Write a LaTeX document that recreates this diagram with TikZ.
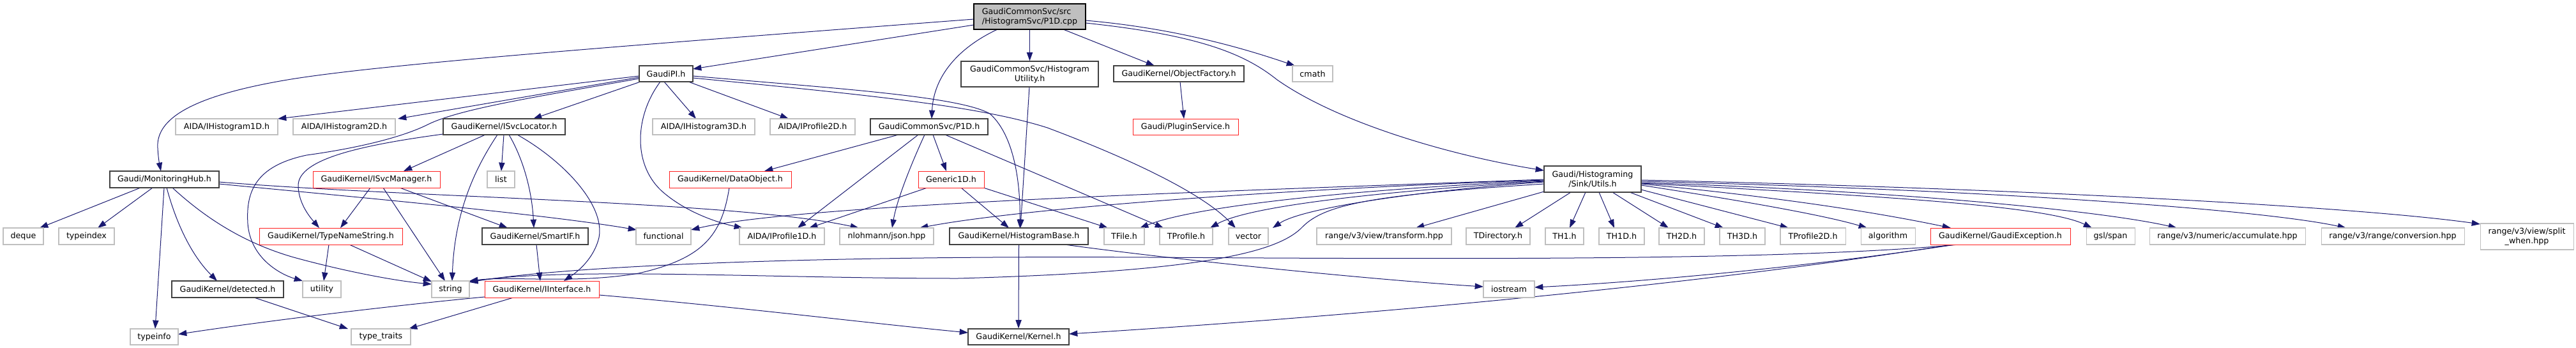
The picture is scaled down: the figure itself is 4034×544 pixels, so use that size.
\documentclass[tikz,border=0pt]{standalone}
\usepackage{fontspec}
\setmainfont{DejaVu Sans}
\usetikzlibrary{arrows.meta,calc}
\pgfdeclarelayer{bg}
\pgfsetlayers{bg,main}
\definecolor{edgec}{HTML}{191970}
\definecolor{grayb}{HTML}{BFBFBF}
\definecolor{darkb}{HTML}{404040}
\definecolor{redb}{HTML}{FF2020}
\definecolor{topfill}{HTML}{BFBFBF}
\newcommand\mknode[7]{\node[#1, minimum width={(#4-#3)*0.75pt}, minimum height={(#6-#5)*0.75pt}] (#2) at ({(#3+#4)/2},{(#5+#6)/2}) {#7};}
\begin{document}
\begin{tikzpicture}[x=0.75pt,y=-0.75pt,
  base/.style={rectangle, inner sep=0pt, fill=white, align=center, text=black,
    font=\fontsize{9.5}{11.25}\selectfont, line width=0.9pt},
  nb/.style={base, draw=darkb},
  ng/.style={base, draw=grayb, line width=0.8pt},
  nr/.style={base, draw=redb, line width=0.75pt},
  ntop/.style={base, draw=black, fill=topfill, align=left},
  conn/.style={draw=edgec, line width=0.75pt, -{Triangle[length=10pt,width=7pt]}}]
\useasboundingbox (0,0) rectangle (4034,544);
% row 0
\mknode{ntop}{cpp}{1525}{1700}{6}{46}{GaudiCommonSvc/src\\/HistogramSvc/P1D.cpp}
% row 1
\mknode{nb}{gaudipi}{1001}{1085}{103}{128}{GaudiPI.h}
\mknode{nb}{histutil}{1505}{1720}{96}{136}{GaudiCommonSvc/Histogram\\Utility.h}
\mknode{nb}{objfac}{1744}{1948}{103}{128}{GaudiKernel/ObjectFactory.h}
\mknode{ng}{cmath}{2024}{2087}{103}{128}{cmath}
% row 2
\mknode{ng}{ih1}{275}{435}{186}{211}{AIDA/IHistogram1D.h}
\mknode{ng}{ih2}{459}{619}{186}{211}{AIDA/IHistogram2D.h}
\mknode{nb}{isvcloc}{694}{885}{186}{211}{GaudiKernel/ISvcLocator.h}
\mknode{ng}{ih3}{1022}{1182}{186}{211}{AIDA/IHistogram3D.h}
\mknode{ng}{ip2}{1206}{1339}{186}{211}{AIDA/IProfile2D.h}
\mknode{nb}{p1dh}{1363}{1547}{186}{211}{GaudiCommonSvc/P1D.h}
\mknode{nr}{plugin}{1774}{1939}{186}{211}{Gaudi/PluginService.h}
% row 3
\mknode{nb}{mhub}{172}{343}{268}{294}{Gaudi/MonitoringHub.h}
\mknode{nr}{isvcman}{490}{689}{268}{294}{GaudiKernel/ISvcManager.h}
\mknode{ng}{list}{763}{806}{268}{294}{list}
\mknode{nr}{dataobj}{1048}{1239}{268}{294}{GaudiKernel/DataObject.h}
\mknode{nr}{gen1d}{1438}{1541}{268}{294}{Generic1D.h}
\mknode{nb}{utils}{2418}{2570}{260}{301}{Gaudi/Histograming\\/Sink/Utils.h}
% row 4
\mknode{ng}{deque}{5}{68}{357}{383}{deque}
\mknode{ng}{typeindex}{92}{179}{357}{383}{typeindex}
\mknode{nr}{tns}{406}{630}{357}{383}{GaudiKernel/TypeNameString.h}
\mknode{nb}{smartif}{755}{921}{357}{383}{GaudiKernel/SmartIF.h}
\mknode{ng}{functional}{996}{1082}{357}{383}{functional}
\mknode{ng}{ip1}{1158}{1291}{357}{383}{AIDA/IProfile1D.h}
\mknode{ng}{json}{1315}{1462}{357}{383}{nlohmann/json.hpp}
\mknode{nb}{hbase}{1487}{1704}{357}{383}{GaudiKernel/HistogramBase.h}
\mknode{ng}{tfile}{1729}{1792}{357}{383}{TFile.h}
\mknode{ng}{tprofile}{1816}{1899}{357}{383}{TProfile.h}
\mknode{ng}{vector}{1924}{1986}{357}{383}{vector}
\mknode{ng}{transform}{2062}{2273}{357}{383}{range/v3/view/transform.hpp}
\mknode{ng}{tdir}{2296}{2396}{357}{383}{TDirectory.h}
\mknode{ng}{th1}{2420}{2480}{357}{383}{TH1.h}
\mknode{ng}{th1d}{2504}{2575}{357}{383}{TH1D.h}
\mknode{ng}{th2d}{2598}{2669}{357}{383}{TH2D.h}
\mknode{ng}{th3d}{2693}{2764}{357}{383}{TH3D.h}
\mknode{ng}{tp2d}{2788}{2890}{357}{383}{TProfile2D.h}
\mknode{ng}{algorithm}{2914}{2999}{357}{383}{algorithm}
\mknode{nr}{gexc}{3023}{3242}{357}{383}{GaudiKernel/GaudiException.h}
\mknode{ng}{gsl}{3267}{3343}{357}{383}{gsl/span}
\mknode{ng}{accum}{3366}{3610}{357}{383}{range/v3/numeric/accumulate.hpp}
\mknode{ng}{conv}{3635}{3859}{357}{383}{range/v3/range/conversion.hpp}
\mknode{ng}{split}{3884}{4030}{350}{391}{range/v3/view/split\\\_when.hpp}
% row 5
\mknode{nb}{detected}{269}{444}{440}{466}{GaudiKernel/detected.h}
\mknode{ng}{utility}{474}{534}{440}{466}{utility}
\mknode{ng}{string}{676}{735}{440}{466}{string}
\mknode{nr}{iinterface}{759}{938}{440}{466}{GaudiKernel/IInterface.h}
\mknode{ng}{iostream}{2323}{2403}{440}{466}{iostream}
% row 6
\mknode{ng}{typeinfo}{204}{279}{515}{540}{typeinfo}
\mknode{ng}{typetraits}{550}{643}{515}{540}{type\_traits}
\mknode{nb}{kernel}{1516}{1674}{515}{540}{GaudiKernel/Kernel.h}

\begin{pgfonlayer}{bg}
% from cpp
\draw[conn] ($(cpp)+(-87.5,4)$) .. controls (1000,70) and (600,100) .. (450,125) .. controls (290,152) and (244,190) .. (247,232) .. controls (248,250) and (250,258) .. ($(mhub)+(-5.5,-13)$);
\draw[conn] ($(cpp)+(-87.5,13)$) -- ($(gaudipi)+(42,-7.5)$);
\draw[conn] ($(cpp)+(-50.5,20)$) .. controls (1500,75) and (1462,120) .. ($(p1dh)+(4,-12.5)$);
\draw[conn] (cpp.south) -- (histutil.north);
\draw[conn] ($(cpp)+(52.5,20)$) -- ($(objfac)+(-38,-12.5)$);
\draw[conn] ($(cpp)+(87.5,6)$) .. controls (1850,45) and (1960,80) .. ($(cmath)+(-27.5,-12.5)$);
\draw[conn] ($(cpp)+(87.5,10)$) .. controls (1880,55) and (1950,85) .. (2000,125) .. controls (2100,195) and (2280,245) .. ($(utils)+(-76,-13.5)$);
% from GaudiPI
\draw[conn] ($(gaudipi)+(-42,3.5)$) -- ($(ih1)+(80,-12.5)$);
\draw[conn] ($(gaudipi)+(-42,5.5)$) -- ($(ih2)+(84,-12.5)$);
\draw[conn] ($(gaudipi)+(-40,12.5)$) -- ($(isvcloc)+(45.5,-12.5)$);
\draw[conn] ($(gaudipi)+(-42,7.5)$) .. controls (850,150) and (720,170) .. (670,195) .. controls (630,215) and (560,232) .. (480,243) .. controls (400,260) and (385,300) .. (388,350) .. controls (392,405) and (440,430) .. ($(utility)+(-30,-13)$);
\draw[conn] ($(gaudipi)+(-3,12.5)$) -- ($(ih3)+(-12,-12.5)$);
\draw[conn] ($(gaudipi)+(35,12.5)$) -- ($(ip2)+(-37.5,-12.5)$);
\draw[conn] ($(gaudipi)+(-9,12.5)$) .. controls (995,180) and (990,255) .. (1035,298) .. controls (1070,330) and (1120,348) .. ($(ip1)+(-61.5,-13)$);
\draw[conn] ($(gaudipi)+(42,3.5)$) .. controls (1300,138) and (1500,150) .. (1550,178) .. controls (1592,215) and (1598,300) .. ($(hbase)+(1.5,-13)$);
\draw[conn] ($(gaudipi)+(42,6.5)$) .. controls (1350,148) and (1530,165) .. (1640,200) .. controls (1760,245) and (1880,300) .. ($(vector)+(-20,-13)$);
% from ISvcLocator
\draw[conn] ($(isvcloc)+(-95.5,11.5)$) .. controls (560,228) and (468,250) .. (467,290) .. controls (467,320) and (488,343) .. ($(tns)+(-18,-13)$);
\draw[conn] ($(isvcloc)+(-29.5,12.5)$) -- ($(isvcman)+(42.5,-13)$);
\draw[conn] ($(isvcloc)+(-10.5,12.5)$) .. controls (745,262) and (712,330) .. ($(string)+(2.5,-13)$);
\draw[conn] ($(isvcloc)+(-0.5,12.5)$) -- ($(list)+(0.5,-13)$);
\draw[conn] ($(isvcloc)+(7.5,12.5)$) .. controls (820,250) and (833,300) .. ($(smartif)+(-2,-13)$);
\draw[conn] ($(isvcloc)+(20.5,12.5)$) .. controls (880,250) and (948,320) .. (938,372) .. controls (930,405) and (905,425) .. ($(iinterface)+(34.5,-13)$);
% from ISvcManager
\draw[conn] ($(isvcman)+(-9.5,13)$) -- ($(tns)+(15,-13)$);
\draw[conn] ($(isvcman)+(10.5,13)$) -- ($(string)+(-8.5,-13)$);
\draw[conn] ($(isvcman)+(36.5,13)$) -- ($(smartif)+(-43,-13)$);
% from TypeNameString, SmartIF
\draw[conn] ($(tns)+(-3,13)$) -- ($(utility)+(3,-13)$);
\draw[conn] ($(tns)+(29,13)$) -- ($(string)+(-29.5,-12)$);
\draw[conn] ($(smartif)+(2,13)$) -- ($(iinterface)+(-2.5,-13)$);
% from MonitoringHub
\draw[conn] ($(mhub)+(-37.5,13)$) -- ($(deque)+(25.5,-13)$);
\draw[conn] ($(mhub)+(-18.5,13)$) -- ($(typeindex)+(17.5,-13)$);
\draw[conn] ($(mhub)+(-0.5,13)$) -- ($(typeinfo)+(1.5,-12.5)$);
\draw[conn] ($(mhub)+(3.5,13)$) .. controls (276,350) and (300,400) .. ($(detected)+(-16.5,-13)$);
\draw[conn] ($(mhub)+(12.5,13)$) .. controls (320,340) and (380,380) .. (460,403) .. controls (540,425) and (620,440) .. ($(string)+(-29.5,-8)$);
\draw[conn] ($(mhub)+(85.5,7)$) .. controls (550,308) and (850,335) .. ($(functional)+(-42,-10)$);
\draw[conn] ($(mhub)+(85.5,4)$) .. controls (650,310) and (1150,315) .. ($(json)+(-43.5,-13)$);
% detected, IInterface
\draw[conn] ($(detected)+(41.5,13)$) -- ($(typetraits)+(-51.5,-12.5)$);
\draw[conn] ($(iinterface)+(-89.5,12)$) .. controls (600,480) and (400,505) .. ($(typeinfo)+(37.5,-4)$);
\draw[conn] ($(iinterface)+(-44.5,13)$) -- ($(typetraits)+(43.5,-12.5)$);
\draw[conn] ($(iinterface)+(89.5,9)$) .. controls (1150,480) and (1350,505) .. ($(kernel)+(-79,-6.5)$);
% DataObject
\draw[conn] ($(dataobj)+(-1.5,13)$) .. controls (1130,370) and (1100,405) .. (1000,428) .. controls (900,445) and (800,432) .. ($(string)+(29.5,-13)$);
% P1D.h
\draw[conn] ($(p1dh)+(-48,12.5)$) -- ($(dataobj)+(53.5,-13)$);
\draw[conn] ($(p1dh)+(-17,12.5)$) -- ($(ip1)+(24.5,-13)$);
\draw[conn] ($(p1dh)+(-7,12.5)$) .. controls (1430,250) and (1405,310) .. ($(json)+(8.5,-13)$);
\draw[conn] ($(p1dh)+(6,12.5)$) -- ($(gen1d)+(-7.5,-13)$);
\draw[conn] ($(p1dh)+(25,12.5)$) -- ($(tprofile)+(-35.5,-13)$);
% Generic1D
\draw[conn] ($(gen1d)+(-37.5,13)$) -- ($(ip1)+(42.5,-13)$);
\draw[conn] ($(gen1d)+(15.5,13)$) -- ($(hbase)+(-15.5,-13)$);
\draw[conn] ($(gen1d)+(50.5,13)$) -- ($(tfile)+(-25.5,-13)$);
% HistogramUtility, ObjectFactory, HistogramBase
\draw[conn] ($(histutil)+(-0.5,20)$) -- ($(hbase)+(2.5,-13)$);
\draw[conn] ($(objfac)+(2,12.5)$) -- ($(plugin)+(-2.5,-12.5)$);
\draw[conn] (hbase.south) -- (kernel.north);
\draw[conn] ($(hbase)+(71.5,13)$) .. controls (1850,408) and (2150,438) .. ($(iostream)+(-40,-4)$);
% Utils.h
\draw[conn] ($(utils)+(-76,0.5)$) .. controls (1900,300) and (1250,320) .. ($(functional)+(43,-10)$);
\draw[conn] ($(utils)+(-76,1.5)$) .. controls (1950,298) and (1580,330) .. ($(json)+(51.5,-13)$);
\draw[conn] ($(utils)+(-76,2.5)$) .. controls (2150,295) and (1880,320) .. ($(tfile)+(24.5,-13)$);
\draw[conn] ($(utils)+(-76,3.5)$) .. controls (2200,297) and (1960,320) .. ($(tprofile)+(37.5,-13)$);
\draw[conn] ($(utils)+(-76,4.5)$) .. controls (2230,298) and (2040,325) .. ($(vector)+(38,-13)$);
\draw[conn] ($(utils)+(-76,7.5)$) .. controls (2150,305) and (2075,320) .. (2040,355) .. controls (2005,392) and (1900,425) .. (1500,436) .. controls (1200,436) and (900,418) .. ($(string)+(29.5,-12)$);
\draw[conn] ($(utils)+(-76,19.5)$) -- ($(transform)+(49.5,-13)$);
\draw[conn] ($(utils)+(-34,20.5)$) -- ($(tdir)+(26,-13)$);
\draw[conn] ($(utils)+(-11,20.5)$) -- ($(th1)+(8,-13)$);
\draw[conn] ($(utils)+(10,20.5)$) -- ($(th1d)+(-11.5,-13)$);
\draw[conn] ($(utils)+(31,20.5)$) -- ($(th2d)+(-20.5,-13)$);
\draw[conn] ($(utils)+(58,20.5)$) -- ($(th3d)+(-29.5,-13)$);
\draw[conn] ($(utils)+(76,16.5)$) -- ($(tp2d)+(-38,-13)$);
\draw[conn] ($(utils)+(76,9.5)$) .. controls (2700,310) and (2850,335) .. ($(algorithm)+(-32.5,-13)$);
\draw[conn] ($(utils)+(76,7.5)$) .. controls (2800,310) and (2950,335) .. ($(gexc)+(-77.5,-13)$);
\draw[conn] ($(utils)+(76,6.5)$) .. controls (2900,305) and (3200,320) .. ($(gsl)+(-29,-13)$);
\draw[conn] ($(utils)+(76,5.5)$) .. controls (3000,300) and (3300,332) .. ($(accum)+(-79,-13)$);
\draw[conn] ($(utils)+(76,3.5)$) .. controls (3150,298) and (3550,330) .. ($(conv)+(-73,-13)$);
\draw[conn] ($(utils)+(76,1.5)$) .. controls (3200,296) and (3700,325) .. ($(split)+(-73,-19.5)$);
% GaudiException
\draw[conn] ($(gexc)+(-65.5,13)$) .. controls (2800,408) and (2300,406) .. (1800,403) .. controls (1300,400) and (900,415) .. ($(string)+(29.5,-11)$);
\draw[conn] ($(gexc)+(-70.5,13)$) .. controls (2850,415) and (2600,440) .. ($(iostream)+(40,-3)$);
\draw[conn] ($(gexc)+(-75.5,13)$) .. controls (2700,440) and (2200,490) .. ($(kernel)+(79,-4.5)$);
\end{pgfonlayer}
\end{tikzpicture}
\end{document}
